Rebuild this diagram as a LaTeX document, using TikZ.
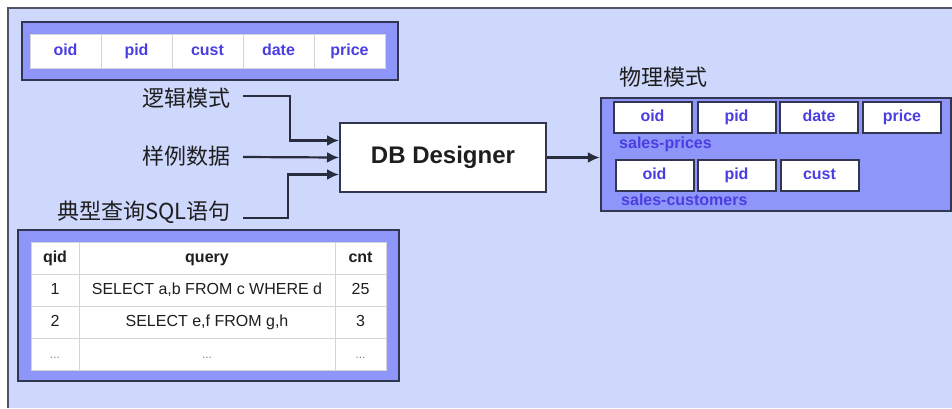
\documentclass[tikz,border=0pt]{standalone}
\usepackage{fontspec}
\setmainfont{Liberation Sans}
\newfontfamily\cjk{Noto Sans CJK SC}
\usetikzlibrary{arrows.meta}
\definecolor{panelbg}{RGB}{206,215,252}
\definecolor{panelline}{RGB}{80,84,100}
\definecolor{framefill}{RGB}{143,150,250}
\definecolor{frameline}{RGB}{50,54,80}
\definecolor{fieldblue}{RGB}{75,62,225}
\definecolor{gridgray}{RGB}{212,212,218}
\definecolor{ink}{RGB}{30,30,30}
\definecolor{wire}{RGB}{40,44,60}
\begin{document}
\begin{tikzpicture}[x=1pt,y=-1pt,
  frame/.style={draw=frameline, line width=2.4pt, fill=framefill, inner sep=0pt},
  fieldtxt/.style={text=fieldblue, font=\fontsize{16}{19}\selectfont\bfseries},
  tcell/.style={fieldtxt, draw=gridgray, line width=1pt, fill=white, minimum width=71pt, minimum height=34pt, inner sep=0pt, text height=12pt, text depth=3.5pt},
  pcell/.style={fieldtxt, draw=frameline, line width=2pt, fill=white, minimum width=78pt, minimum height=31pt, inner sep=0pt, text height=12pt, text depth=3.5pt},
  bcell/.style={draw=gridgray, line width=1pt, fill=white, minimum height=32pt, inner sep=0pt, text=ink, font=\fontsize{16}{19}\selectfont, text height=12pt, text depth=3.5pt},
  bhead/.style={bcell, font=\fontsize{16}{19}\selectfont\bfseries},
  bdots/.style={bcell, text=gray, font=\fontsize{12}{14}\selectfont},
  colA/.style={minimum width=48pt},
  colB/.style={minimum width=256pt},
  colC/.style={minimum width=51pt},
  cjklabel/.style={text=ink, font=\cjk\fontsize{22}{26}\selectfont, inner sep=0pt},
  conn/.style={draw=wire, line width=2.2pt, -{Latex[length=12pt,width=11pt]}},
]
\useasboundingbox (0,0) rectangle (952,408);
% background panel
\fill[white] (0,0) rectangle (952,408);
\fill[panelbg] (8,8) rectangle (952,408);
\draw[panelline, line width=2.2pt] (8,408) -- (8,8) -- (952,8);

% logical schema table
\node[frame, minimum width=376pt, minimum height=58pt] (topframe) at (210,51) {};
\node[tcell] (t1) at (65.5,51) {oid};
\node[tcell] (t2) at (136.5,51) {pid};
\node[tcell] (t3) at (207.5,51) {cust};
\node[tcell] (t4) at (278.5,51) {date};
\node[tcell] (t5) at (349.5,51) {price};

% query log table
\node[frame, minimum width=381pt, minimum height=151pt] (botframe) at (208.5,305.5) {};
\node[bhead, colA] (q11) at (55,258) {qid};
\node[bhead, colB] (q12) at (207,258) {query};
\node[bhead, colC] (q13) at (360.5,258) {cnt};
\node[bcell, colA] (q21) at (55,290) {1};
\node[bcell, colB] (q22) at (207,290) {SELECT a,b FROM c WHERE d};
\node[bcell, colC] (q23) at (360.5,290) {25};
\node[bcell, colA] (q31) at (55,322) {2};
\node[bcell, colB] (q32) at (207,322) {SELECT e,f FROM g,h};
\node[bcell, colC] (q33) at (360.5,322) {3};
\node[bdots, colA] (q41) at (55,354) {...};
\node[bdots, colB] (q42) at (207,354) {...};
\node[bdots, colC] (q43) at (360.5,354) {...};

% inputs
\node[cjklabel, anchor=east] (l1) at (231,98) {逻辑模式};
\node[cjklabel, anchor=east] (l2) at (231,156) {样例数据};
\node[cjklabel, anchor=east] (l3) at (231,212) {典型查询SQL语句};

% designer
\node[draw=frameline, line width=2pt, fill=white, minimum width=206pt, minimum height=69pt,
      text=ink, font=\fontsize{24}{28}\selectfont\bfseries] (db) at (443,157.5) {DB Designer};

\draw[conn] ([xshift=12pt,yshift=2pt]l1.east) -- ++(47,0) |- ([yshift=17pt]db.west);
\draw[conn] ([xshift=12pt,yshift=-1pt]l2.east) -- (db.west);
\draw[conn] ([xshift=12pt,yshift=-6pt]l3.east) -- ++(45,0) |- ([yshift=-17pt]db.west);

% physical schema
\node[cjklabel, anchor=west] (phyl) at (619,77) {物理模式};
\node[frame, minimum width=350pt, minimum height=113pt] (phys) at (776,154.5) {};
\node[pcell] (p1) at (652.5,117.5) {oid};
\node[pcell] (p2) at (736.5,117.5) {pid};
\node[pcell] (p3) at (819,117.5) {date};
\node[pcell] (p4) at (902,117.5) {price};
\node[fieldtxt, anchor=west, inner sep=0pt] (sp) at (619,144) {sales-prices};
\node[pcell] (c1) at (654.5,175.5) {oid};
\node[pcell] (c2) at (736.5,175.5) {pid};
\node[pcell] (c3) at (819.5,175.5) {cust};
\node[fieldtxt, anchor=west, inner sep=0pt] (sc) at (621,200) {sales-customers};

\draw[conn] (db.east) -- (db.east -| phys.west);
\end{tikzpicture}
\end{document}
